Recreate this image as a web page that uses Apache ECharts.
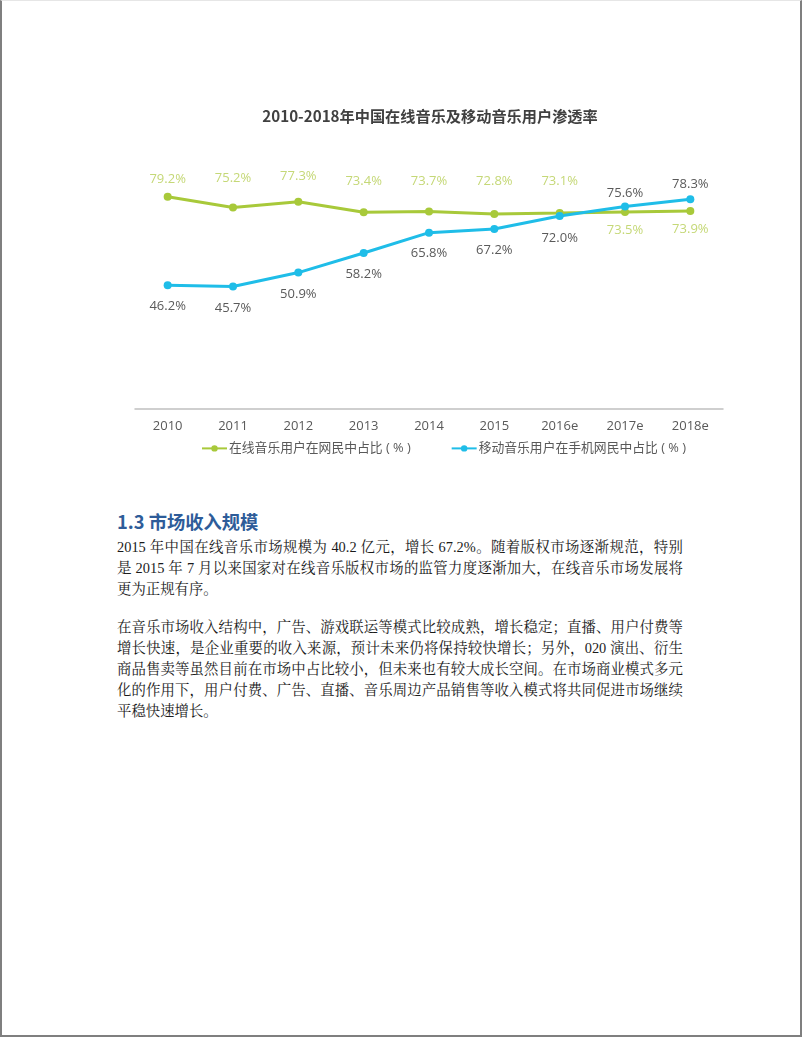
<!DOCTYPE html>
<html>
<head>
<meta charset="utf-8">
<script src="https://cdn.jsdelivr.net/npm/echarts@6/dist/echarts.min.js"></script>
<style>
  html, body { margin: 0; padding: 0; background: #fff; }
  #page { position: relative; width: 802px; height: 1037px; box-sizing: border-box;
          border-left: 2px solid #7f7f7f; border-right: 2px solid #7f7f7f; border-bottom: 2px solid #7f7f7f; border-top: 1px solid #e6e6e6; overflow: hidden; }
  #chart { position: absolute; left: -2px; top: -1px; width: 802px; height: 480px; }
  #heading { position: absolute; left: 115px; top: 506px; font-family: "Noto Sans CJK SC", sans-serif; font-weight: bold; font-size: 18.3px; color: #2e5c99; line-height: 28px; }
  .para { position: absolute; left: 115px; width: 566px; font-family: "Liberation Serif", "Noto Serif CJK SC", "Noto Sans CJK SC", serif; font-size: 14.4px; color: #1a1a1a; }
  .line { height: 21px; line-height: 21px; white-space: nowrap; text-align: justify; text-align-last: justify; }
  .line.last { text-align-last: left; }
</style>
</head>
<body>
<div id="page">
  <div id="chart"></div>
  <div id="heading">1.3 市场收入规模</div>
  <div class="para" style="top:536px">
    <div class="line">2015 年中国在线音乐市场规模为 40.2 亿元，增长 67.2%。随着版权市场逐渐规范，特别</div>
    <div class="line">是 2015 年 7 月以来国家对在线音乐版权市场的监管力度逐渐加大，在线音乐市场发展将</div>
    <div class="line last">更为正规有序。</div>
  </div>
  <div class="para" style="top:616px">
    <div class="line">在音乐市场收入结构中，广告、游戏联运等模式比较成熟，增长稳定；直播、用户付费等</div>
    <div class="line">增长快速，是企业重要的收入来源，预计未来仍将保持较快增长；另外，020 演出、衍生</div>
    <div class="line">商品售卖等虽然目前在市场中占比较小，但未来也有较大成长空间。在市场商业模式多元</div>
    <div class="line">化的作用下，用户付费、广告、直播、音乐周边产品销售等收入模式将共同促进市场继续</div>
    <div class="line last">平稳快速增长。</div>
  </div>
</div>
<script>
const titleText = '2010-2018年中国在线音乐及移动音乐用户渗透率';
const categories = ['2010', '2011', '2012', '2013', '2014', '2015', '2016e', '2017e', '2018e'];
const seriesNames = ['在线音乐用户在网民中占比 ( % )', '移动音乐用户在手机网民中占比 ( % )'];
const onlineValues = [79.2, 75.2, 77.3, 73.4, 73.7, 72.8, 73.1, 73.5, 73.9];
const mobileValues = [46.2, 45.7, 50.9, 58.2, 65.8, 67.2, 72.0, 75.6, 78.3];

// label placement styles (not data)
const onlinePos = ['top', 'top', 'top', 'top', 'top', 'top', 'top', 'bottom', 'bottom'];
const onlineDist = [7, 19, 15, 20, 20, 22, 21, 8, 8];
const mobilePos = ['bottom', 'bottom', 'bottom', 'bottom', 'bottom', 'bottom', 'bottom', 'top', 'top'];
const mobileDist = [11, 11, 11, 11, 10, 11, 12, 3, 4];

const GREEN = '#a8c93a', BLUE = '#1fbde8';
const fontFam = '"Open Sans", "Noto Sans CJK SC", sans-serif';

function build(values, pos, dist) {
  return values.map((v, i) => ({ value: v, label: { position: pos[i], distance: dist[i] } }));
}

const chart = echarts.init(document.getElementById('chart'), null, { renderer: 'canvas' });
chart.setOption({
  animation: false,
  backgroundColor: 'transparent',
  title: {
    text: titleText, left: 425, top: 104, textAlign: 'center',
    textStyle: { fontFamily: '"Noto Sans CJK SC", sans-serif', fontSize: 15.2, fontWeight: 'bold', color: '#404040' }
  },
  legend: {
    left: 201, top: 442, padding: 0, itemGap: 40, itemWidth: 25, itemHeight: 8,
    textStyle: { fontFamily: fontFam, fontSize: 12.8, color: '#595959', padding: [0, 0, 0, -3] },
    data: seriesNames
  },
  grid: { left: 135, right: 79, top: 141, bottom: 71 },
  xAxis: {
    type: 'category', data: categories, boundaryGap: true,
    axisLine: { lineStyle: { color: '#c0c0c0', width: 1.5 } },
    axisTick: { show: false },
    axisLabel: { color: '#595959', fontSize: 13, fontFamily: fontFam, margin: 11 }
  },
  yAxis: { type: 'value', min: 0, max: 100, show: false, splitLine: { show: false } },
  series: [
    {
      name: seriesNames[0], type: 'line', data: build(onlineValues, onlinePos, onlineDist),
      symbol: 'circle', symbolSize: 8, color: GREEN,
      lineStyle: { width: 3, color: GREEN }, itemStyle: { color: GREEN },
      label: { show: true, formatter: p => p.value.toFixed(1) + '%', color: '#c5d877', fontSize: 13, fontFamily: fontFam }
    },
    {
      name: seriesNames[1], type: 'line', data: build(mobileValues, mobilePos, mobileDist),
      symbol: 'circle', symbolSize: 8, color: BLUE,
      lineStyle: { width: 3, color: BLUE }, itemStyle: { color: BLUE },
      label: { show: true, formatter: p => p.value.toFixed(1) + '%', color: '#5a5a5a', fontSize: 13, fontFamily: fontFam }
    }
  ]
});
</script>
</body>
</html>
